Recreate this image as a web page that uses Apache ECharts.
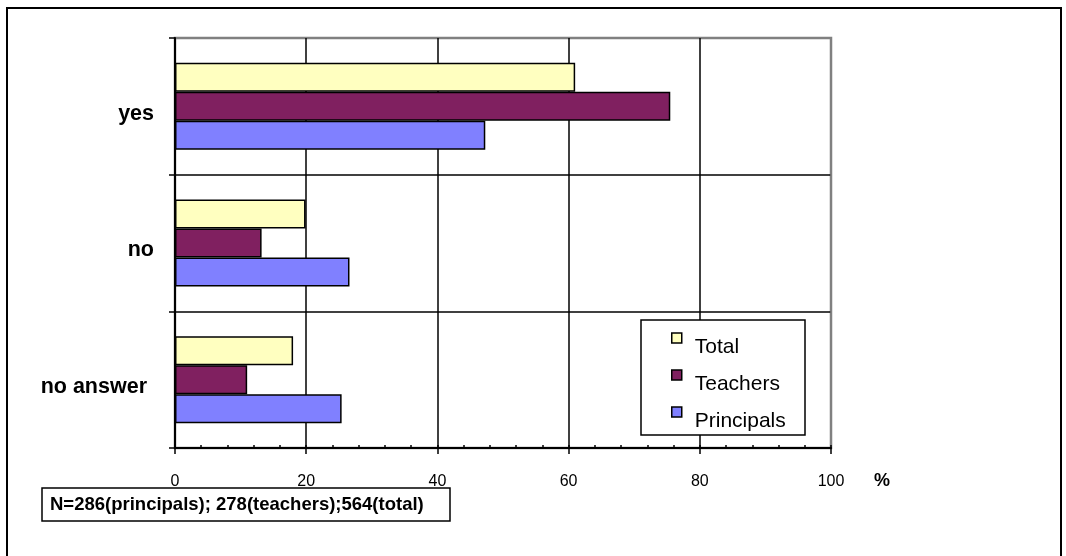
<!DOCTYPE html>
<html>
<head>
<meta charset="utf-8">
<script src="https://cdn.jsdelivr.net/npm/echarts@6/dist/echarts.min.js"></script>
<style>
  html, body { margin: 0; padding: 0; background: #fff; }
  #chart { width: 1066px; height: 556px; }
</style>
</head>
<body>
<div id="chart"></div>
<script>
// Answer categories (top to bottom) and percentage shares per group
const categories = ['yes', 'no', 'no answer'];
const totalValues = [61.0, 19.9, 18.0];
const teacherValues = [75.5, 13.2, 11.0];
const principalValues = [47.3, 26.6, 25.4];
const seriesNames = ['Total', 'Teachers', 'Principals'];
const xTicks = [0, 20, 40, 60, 80, 100];
const unitLabel = '%';
const sampleNote = 'N=286(principals); 278(teachers);564(total)';

const FONT = '"Liberation Sans", Arial, sans-serif';
const colors = ['#FFFFC0', '#802060', '#8080FF'];

const chart = echarts.init(document.getElementById('chart'), null, { renderer: 'canvas' });

function barSeries(name, data, color) {
  return {
    name: name,
    type: 'bar',
    data: data,
    barWidth: 29,
    barGap: '0%',
    itemStyle: { color: color, borderColor: '#000', borderWidth: 1.5 },
    emphasis: { disabled: true },
    z: 2
  };
}

const option = {
  animation: false,
  backgroundColor: '#fff',
  textStyle: { fontFamily: FONT },
  grid: {
    left: 175, right: 235, top: 38, bottom: 108,
    show: true, borderColor: '#808080', borderWidth: 2.5, backgroundColor: 'transparent'
  },
  xAxis: [
    {
      type: 'value',
      min: xTicks[0], max: xTicks[xTicks.length - 1], interval: 20,
      position: 'bottom',
      axisLine: { show: true, lineStyle: { color: '#000', width: 2 } },
      axisTick: { show: true, inside: false, length: 6, lineStyle: { color: '#000', width: 1.5 } },
      splitLine: { show: true, lineStyle: { color: ['#000', '#000', '#000', '#000', '#000', '#808080'], width: 1.5 } },
      axisLabel: { color: '#000', fontSize: 16, fontFamily: FONT, margin: 26 }
    },
    {
      // minor tick marks pointing into the plot
      type: 'value',
      min: 0, max: 100, interval: 4,
      position: 'bottom',
      axisLine: { show: false },
      axisTick: { show: true, inside: true, length: 3, lineStyle: { color: '#000', width: 1.5 } },
      axisLabel: { show: false },
      splitLine: { show: false }
    }
  ],
  yAxis: {
    type: 'category',
    data: categories,
    inverse: true,
    axisLine: { show: true, lineStyle: { color: '#000', width: 2 } },
    axisTick: { show: true, length: 6, lineStyle: { color: '#000', width: 1.5 } },
    splitLine: { show: true, lineStyle: { color: ['#808080', '#000', '#000', '#000'], width: 1.5 } },
    axisLabel: {
      margin: 21,
      color: '#000',
      formatter: function (v) { return v === 'no answer' ? '{b|' + v + '}' : '{a|' + v + '}'; },
      rich: {
        a: { fontSize: 21.5, fontWeight: 'bold', fontFamily: FONT, color: '#000', padding: [15, 0, 0, 0] },
        b: { fontSize: 21.5, fontWeight: 'bold', fontFamily: FONT, color: '#000', padding: [15, 7, 0, 0] }
      }
    }
  },
  legend: {
    orient: 'vertical',
    left: 666, top: 313,
    data: seriesNames,
    icon: 'rect',
    itemWidth: 10, itemHeight: 10,
    itemGap: -3,
    itemStyle: { borderColor: '#000', borderWidth: 1.5 },
    selectedMode: false,
    formatter: function (name) { return '{t|' + name + '}'; },
    textStyle: {
      color: '#000',
      rich: { t: { fontSize: 21, fontFamily: FONT, color: '#000', lineHeight: 19, padding: [19, 0, 0, 8] } }
    },
    z: 5
  },
  graphic: [
    {
      // outer chart frame
      type: 'rect', z: 10, silent: true,
      shape: { x: 7, y: 8, width: 1054, height: 600 },
      style: { fill: 'none', stroke: '#000', lineWidth: 2 }
    },
    {
      // legend frame
      type: 'rect', z: 3, silent: true,
      shape: { x: 641, y: 320, width: 164, height: 115 },
      style: { fill: '#fff', stroke: '#000', lineWidth: 1.5 }
    },
    {
      type: 'text', z: 4, silent: true,
      x: 874, y: 481,
      style: { text: unitLabel, font: 'bold 18px ' + FONT, fill: '#000', verticalAlign: 'middle', align: 'left' }
    },
    {
      type: 'rect', z: 3, silent: true,
      shape: { x: 42, y: 488, width: 408, height: 33 },
      style: { fill: '#fff', stroke: '#000', lineWidth: 1.5 }
    },
    {
      type: 'text', z: 4, silent: true,
      x: 50, y: 505,
      style: { text: sampleNote, font: 'bold 18.5px ' + FONT, fill: '#000', verticalAlign: 'middle', align: 'left' }
    }
  ],
  series: [
    barSeries(seriesNames[0], totalValues, colors[0]),
    barSeries(seriesNames[1], teacherValues, colors[1]),
    barSeries(seriesNames[2], principalValues, colors[2])
  ]
};

chart.setOption(option);
</script>
</body>
</html>
